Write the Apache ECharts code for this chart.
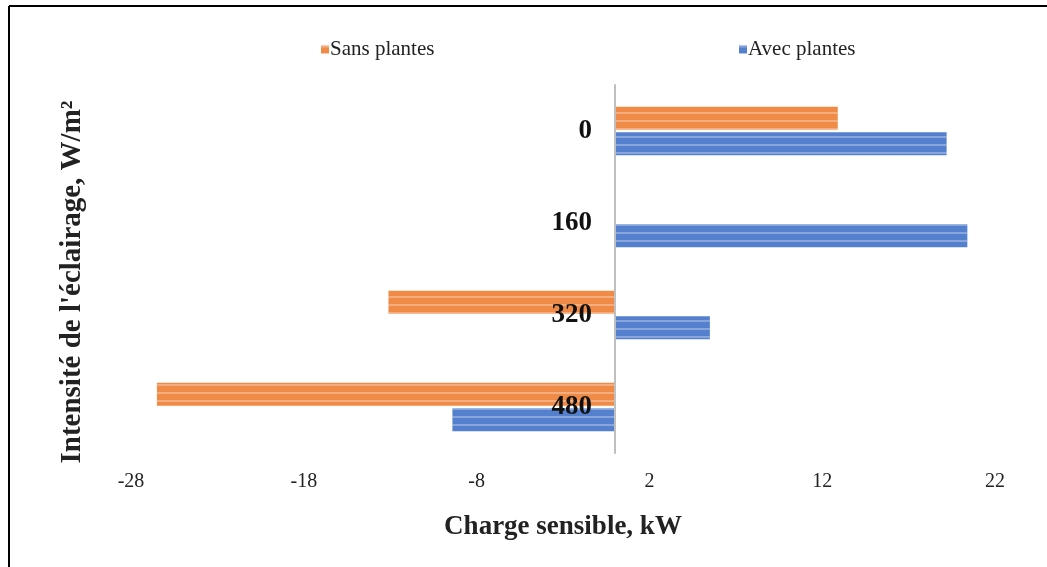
<!DOCTYPE html>
<html>
<head>
<meta charset="utf-8">
<script src="https://cdn.jsdelivr.net/npm/echarts@6/dist/echarts.min.js"></script>
<style>
html,body{margin:0;padding:0;background:#fff;}
#chart{width:1047px;height:567px;}
</style>
</head>
<body>
<div id="chart"></div>
<script>
const categories = ['0', '160', '320', '480'];
const sansPlantes = [12.9, 0, -13.1, -26.5];
const avecPlantes = [19.2, 20.4, 5.5, -9.4];
const xTicks = { min: -28, max: 22, interval: 10 };

const serif = '"Liberation Serif", "Times New Roman", serif';
const chart = echarts.init(document.getElementById('chart'));

function stripes() {
  return { symbol: 'rect', symbolSize: 1, dashArrayX: [1, 0], dashArrayY: [2, 6], rotation: 0, color: 'rgba(255,255,255,0.3)' };
}

chart.setOption({
  backgroundColor: '#fff',
  animation: false,
  legend: [
    { data: ['Sans plantes'], left: 316, top: 34, icon: 'rect', itemWidth: 8, itemHeight: 8, itemGap: 0,
      textStyle: { fontFamily: serif, fontSize: 21, color: '#222', padding: [0, 0, 0, -4] } },
    { data: ['Avec plantes'], left: 734, top: 34, icon: 'rect', itemWidth: 8, itemHeight: 8, itemGap: 0,
      textStyle: { fontFamily: serif, fontSize: 21, color: '#222', padding: [0, 0, 0, -4] } }
  ],
  grid: { left: 131, right: 52, top: 85, bottom: 114, containLabel: false },
  xAxis: {
    type: 'value', min: xTicks.min, max: xTicks.max, interval: xTicks.interval,
    splitLine: { show: false }, axisLine: { show: false }, axisTick: { show: false },
    axisLabel: { fontFamily: serif, fontSize: 20, color: '#222', margin: 19 },
    name: 'Charge sensible, kW', nameLocation: 'middle', nameGap: 61,
    nameTextStyle: { fontFamily: serif, fontSize: 27, fontWeight: 'bold', color: '#222' }
  },
  yAxis: {
    type: 'category', data: categories, inverse: true, z: 10,
    axisLine: { onZero: true, lineStyle: { color: '#BFBFBF', width: 2 } },
    axisTick: { show: false },
    axisLabel: { fontFamily: serif, fontSize: 27, fontWeight: 'bold', color: '#111', margin: -461 }
  },
  graphic: [
    { type: 'text', rotation: Math.PI / 2, x: 73, y: 282,
      style: { text: "Intensité de l'éclairage, W/m²", fontFamily: serif, fontSize: 29, fontWeight: 'bold', fill: '#222', textAlign: 'center', textVerticalAlign: 'middle' } },
    { type: 'line', shape: { x1: 9, y1: 6, x2: 1047, y2: 6 }, style: { stroke: '#000', lineWidth: 2 } },
    { type: 'line', shape: { x1: 9, y1: 6, x2: 9, y2: 567 }, style: { stroke: '#000', lineWidth: 2 } }
  ],
  series: [
    { name: 'Sans plantes', type: 'bar', data: sansPlantes, barWidth: 23, barGap: '10%',
      itemStyle: { color: '#EF8A47', borderWidth: 0, decal: stripes() } },
    { name: 'Avec plantes', type: 'bar', data: avecPlantes, barWidth: 23, barGap: '10%',
      itemStyle: { color: '#5580CE', borderWidth: 0, decal: stripes() } }
  ]
});
</script>
</body>
</html>
